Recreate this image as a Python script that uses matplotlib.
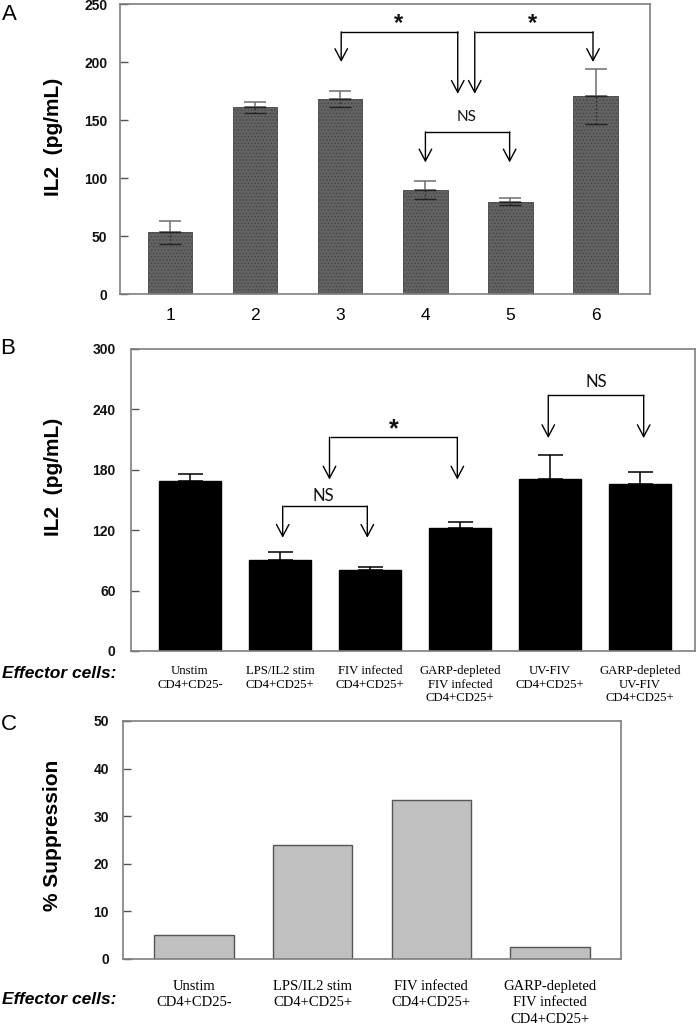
import matplotlib
matplotlib.use("Agg")
import matplotlib.pyplot as plt
import numpy as np

# ---------------- data ----------------
a_groups = ["1", "2", "3", "4", "5", "6"]
a_values = [53.1, 160.9, 168.3, 89.7, 79.7, 170.6]
a_errors = [10.0, 4.8, 6.8, 8.0, 3.2, 23.7]

b_groups = ["Unstim\nCD4+CD25-", "LPS/IL2 stim\nCD4+CD25+", "FIV infected\nCD4+CD25+",
            "GARP-depleted\nFIV infected\nCD4+CD25+", "UV-FIV\nCD4+CD25+",
            "GARP-depleted\nUV-FIV\nCD4+CD25+"]
b_values = [169.0, 90.4, 80.2, 122.1, 170.6, 165.7]
b_errors = [6.6, 7.6, 3.0, 6.0, 24.0, 12.5]

c_groups = ["Unstim\nCD4+CD25-", "LPS/IL2 stim\nCD4+CD25+", "FIV infected\nCD4+CD25+",
            "GARP-depleted\nFIV infected\nCD4+CD25+"]
c_values = [5.0, 23.85, 33.36, 2.6]

# significance brackets: (x_left, x_right, y_bar, tip_left, tip_right, label, label_x, label_y)
a_brackets = [(3.01, 4.38, 226, 200, 172.6, "*", 3.68, 233),
              (4.58, 5.97, 226, 172.6, 200, "*", 5.26, 233),
              (4.0, 4.99, 139.7, 113.4, 113.4, "NS", 4.49, 153)]
b_brackets = [(2.03, 2.97, 143.9, 112.5, 112.5, "NS", 2.48, 154),
              (2.55, 3.97, 212.2, 170.3, 170.3, "*", 3.26, 220),
              (4.98, 6.04, 254, 211.5, 211.5, "NS", 5.51, 267)]

W, H = 700, 1024
fig = plt.figure(figsize=(7, 10.24), dpi=100)
plt.rcParams['font.family'] = ['Liberation Sans', 'DejaVu Sans']
plt.rcParams['hatch.linewidth'] = 0.6

def box(l, t, r, b):
    return [l / W, 1 - b / H, (r - l) / W, (b - t) / H]

axA = fig.add_axes(box(120, 4, 650, 294))
axB = fig.add_axes(box(131, 349, 695, 651))
axC = fig.add_axes(box(123, 721, 621, 959))

def style(ax, pad):
    for s in ax.spines.values():
        s.set_color('#7f7f7f')
        s.set_linewidth(1.2)
    ax.tick_params(axis='y', direction='in', length=6, width=1, color='#555555',
                   pad=pad, labelsize=10, labelcolor='#111111')
    ax.tick_params(axis='x', length=0)
    for lab in ax.get_yticklabels():
        lab.set_fontweight('bold')

def brackets(ax, specs, star_size, ns_size):
    for xl, xr, yb, tl, tr, lab, lx, ly in specs:
        ax.plot([xl, xr], [yb, yb], color='black', lw=1.0, solid_capstyle='butt')
        for xx, tip in ((xl, tl), (xr, tr)):
            ax.annotate('', xy=(xx, tip), xytext=(xx, yb),
                        arrowprops=dict(arrowstyle='->,head_length=0.85,head_width=0.45',
                                        lw=1.0, color='black', shrinkA=0, shrinkB=0))
        if lab == "*":
            ax.text(lx, ly, lab, ha='center', va='center', fontsize=star_size,
                    fontweight='bold', color='#111111')
        else:
            ax.text(lx, ly, lab, ha='center', va='center', fontsize=ns_size,
                    color='#111111', fontfamily=['Lato', 'DejaVu Sans'])

# ---------------- panel A ----------------
xa = np.arange(1, len(a_values) + 1)
axA.bar(xa, a_values, width=0.52, color='#636363', edgecolor='#444444',
        hatch='.....', linewidth=0.6, zorder=2)
axA.errorbar(xa, a_values, yerr=[np.zeros(len(a_errors)), a_errors], fmt='none',
             ecolor='#6e6e6e', elinewidth=1.1, capsize=8, capthick=1.1, zorder=3)
lo = axA.errorbar(xa, a_values, yerr=[a_errors, np.zeros(len(a_errors))], fmt='none',
                  ecolor='#222222', elinewidth=1.0, capsize=8, capthick=1.0, zorder=3)
for lc in lo[2]:
    lc.set_linestyle(':')
axA.set_xlim(0.41, 6.64)
axA.set_ylim(0, 250)
axA.set_yticks(np.arange(0, 251, 50))
axA.set_xticks(xa)
axA.set_xticklabels(a_groups, fontsize=12.5)
axA.tick_params(axis='x', pad=10)
style(axA, 9)
brackets(axA, a_brackets, 17, 11)

# ---------------- panel B ----------------
xb = np.arange(1, len(b_values) + 1)
axB.bar(xb, b_values, width=0.68, color='black', edgecolor='black', zorder=2)
axB.errorbar(xb, b_values, yerr=[np.zeros(len(b_errors)), b_errors], fmt='none',
             ecolor='black', elinewidth=1.1, capsize=9, capthick=1.1, zorder=3)
axB.set_xlim(0.345, 6.61)
axB.set_ylim(0, 300)
axB.set_yticks(np.arange(0, 301, 60))
axB.set_xticks(xb)
axB.set_xticklabels(b_groups, fontsize=9.2, fontfamily='Liberation Serif', linespacing=1.2,
                    va='top')
axB.tick_params(axis='x', pad=10)
style(axB, 11)
brackets(axB, b_brackets, 18, 12)

# ---------------- panel C ----------------
xc = np.arange(1, len(c_values) + 1)
axC.bar(xc, c_values, width=0.67, color='#c0c0c0', edgecolor='#555555', linewidth=1.0, zorder=2)
axC.set_xlim(0.4, 4.6)
axC.set_ylim(0, 50)
axC.set_yticks(np.arange(0, 51, 10))
axC.set_xticks(xc)
axC.set_xticklabels(c_groups, fontsize=10.5, fontfamily='Liberation Serif', linespacing=1.35,
                    va='top')
axC.tick_params(axis='x', pad=15)
style(axC, 10)

# ---------------- figure texts ----------------
fig.text(9 / W, 1 - 14 / H, "A", fontsize=16, ha='center', va='center')
fig.text(8 / W, 1 - 348 / H, "B", fontsize=16, ha='center', va='center')
fig.text(9 / W, 1 - 725 / H, "C", fontsize=16, ha='center', va='center')

fig.text(53.6 / W, 1 - 137 / H, "IL2  (pg/mL)", rotation=90, fontsize=15,
         fontweight='bold', ha='center', va='center')
fig.text(53.5 / W, 1 - 477 / H, "IL2  (pg/mL)", rotation=90, fontsize=15,
         fontweight='bold', ha='center', va='center')
fig.text(52.7 / W, 1 - 835 / H, "% Suppression", rotation=90, fontsize=15,
         fontweight='bold', ha='center', va='center')

fig.text(2 / W, 1 - 674 / H, "Effector cells:", fontsize=12.5, fontweight='bold',
         fontstyle='italic', ha='left', va='center')
fig.text(2 / W, 1 - 999 / H, "Effector cells:", fontsize=12.5, fontweight='bold',
         fontstyle='italic', ha='left', va='center')

fig.savefig("out.png", dpi=100)
